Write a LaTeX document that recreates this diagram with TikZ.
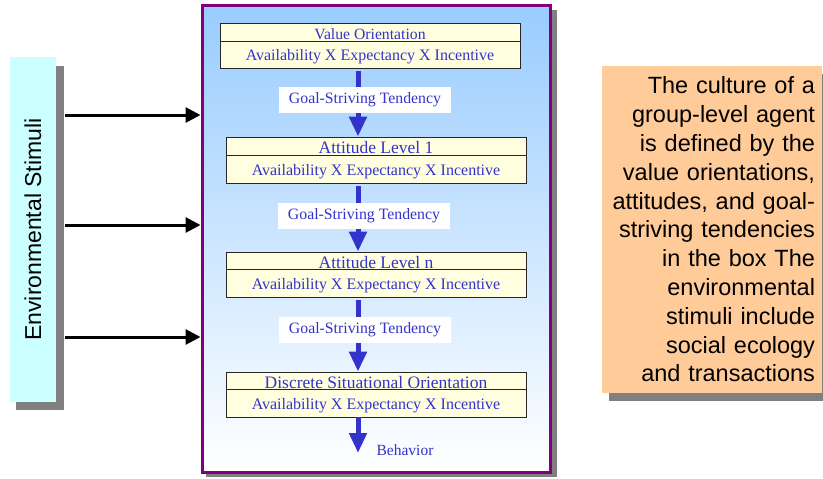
\documentclass[tikz,border=0pt]{standalone}
\usepackage{fontspec}
\setmainfont{Liberation Serif}
\newfontfamily\arialf{Liberation Sans}
\usetikzlibrary{arrows.meta,calc}
\definecolor{tblue}{HTML}{3333CC}
\definecolor{purp}{HTML}{800080}
\definecolor{sky}{HTML}{99CCFF}
\definecolor{cream}{HTML}{FFFFE0}
\definecolor{cyanbox}{HTML}{CCFFFF}
\definecolor{peach}{HTML}{FFCC99}
\definecolor{shadegray}{HTML}{808080}
\begin{document}
\begin{tikzpicture}[x=1pt,y=-1pt,
  shadowbox/.style={fill=shadegray, draw=none, inner sep=0pt},
  rowbase/.style={draw=black!85, fill=cream, line width=0.8pt, minimum width=300pt,
    inner sep=0pt, text=tblue},
  titlerow/.style={rowbase, minimum height=18pt, text height=15pt, text depth=0pt,
    font=\fontsize{17.5}{19}\selectfont},
  formrow/.style={rowbase, minimum height=28pt, text height=12pt, text depth=0pt,
    font=\fontsize{16}{18}\selectfont},
  gstlabel/.style={fill=white, minimum width=172pt, minimum height=26pt, inner sep=0pt,
    text=tblue, font=\fontsize{15.8}{18}\selectfont},
  flow/.style={line width=5pt, draw=tblue, -{Triangle[width=17pt,length=20pt]}},
  stim/.style={line width=3pt, draw=black, -{Triangle[width=15pt,length=15pt]}}
]
\useasboundingbox (0,0) rectangle (823,479);

% shadows
\node[shadowbox, minimum width=351pt, minimum height=467pt] (mainsh) at (381.5,243.5) {};
\node[shadowbox, minimum width=48pt, minimum height=344pt] (envsh) at (40,238) {};
\node[shadowbox, minimum width=220pt, minimum height=327pt] (notesh) at (719,237.5) {};

% main box
\node[draw=purp, line width=3pt, top color=sky, bottom color=white,
      minimum width=348pt, minimum height=467pt, inner sep=0pt] (main) at (376,238.5) {};

% environmental stimuli
\node[fill=cyanbox, minimum width=46pt, minimum height=345pt, inner sep=0pt] (env) at (33,229.5) {};
\node[rotate=90, font=\arialf\fontsize{23}{26}\selectfont] (envtxt) at (env.center) {Environmental Stimuli};

% note box
\node[fill=peach, minimum width=220pt, minimum height=327pt, inner sep=0pt,
      text width=206pt, align=right, font=\arialf\fontsize{23.5}{28.8}\selectfont] (note) at (712,229.5)
  {The culture of a\\ group-level agent\\ is defined by the\\ value orientations,\\ attitudes, and goal-\\ striving tendencies\\ in the box The\\ environmental\\ stimuli include\\ social ecology\\ and transactions};

% rows
\node[titlerow, font=\fontsize{15.7}{18}\selectfont] (vo-t) at (370,32) {Value Orientation};
\node[formrow, minimum height=27pt] (vo-f) at (370,54.5) {Availability X Expectancy X Incentive};
\node[titlerow] (al1-t) at (376,146) {Attitude Level 1};
\node[formrow] (al1-f) at (376,169) {Availability X Expectancy X Incentive};
\node[titlerow, minimum height=17pt] (aln-t) at (376,260.5) {Attitude Level n};
\node[formrow] (aln-f) at (376,283) {Availability X Expectancy X Incentive};
\node[titlerow, minimum height=17pt] (dso-t) at (376,380.5) {Discrete Situational Orientation};
\node[formrow] (dso-f) at (376,403) {Availability X Expectancy X Incentive};

% flow arrows
\coordinate (ax) at (358,0);
\coordinate (bend) at (358,453);
\draw[flow, shorten <=3pt] (vo-f.south -| ax) -- (al1-t.north -| ax);
\draw[flow, shorten <=3pt] (al1-f.south -| ax) -- (aln-t.north -| ax);
\draw[flow, shorten <=3pt] (aln-f.south -| ax) -- (dso-t.north -| ax);
\draw[flow] (dso-f.south -| ax) -- (bend);

\node[gstlabel] (g1) at (365,100) {Goal-Striving Tendency};
\node[gstlabel] (g2) at (364,216) {Goal-Striving Tendency};
\node[gstlabel] (g3) at (365,330) {Goal-Striving Tendency};
\node[text=tblue, font=\fontsize{15.5}{18}\selectfont, inner sep=0pt] (beh) at (405,450) {Behavior};

% stimuli arrows
\coordinate (s1) at (0,115);
\coordinate (s2) at (0,225);
\coordinate (s3) at (0,337);
\draw[stim, shorten <=1pt] (envsh.east |- s1) -- (main.west |- s1);
\draw[stim, shorten <=1pt] (envsh.east |- s2) -- (main.west |- s2);
\draw[stim, shorten <=1pt] (envsh.east |- s3) -- (main.west |- s3);
\end{tikzpicture}
\end{document}
